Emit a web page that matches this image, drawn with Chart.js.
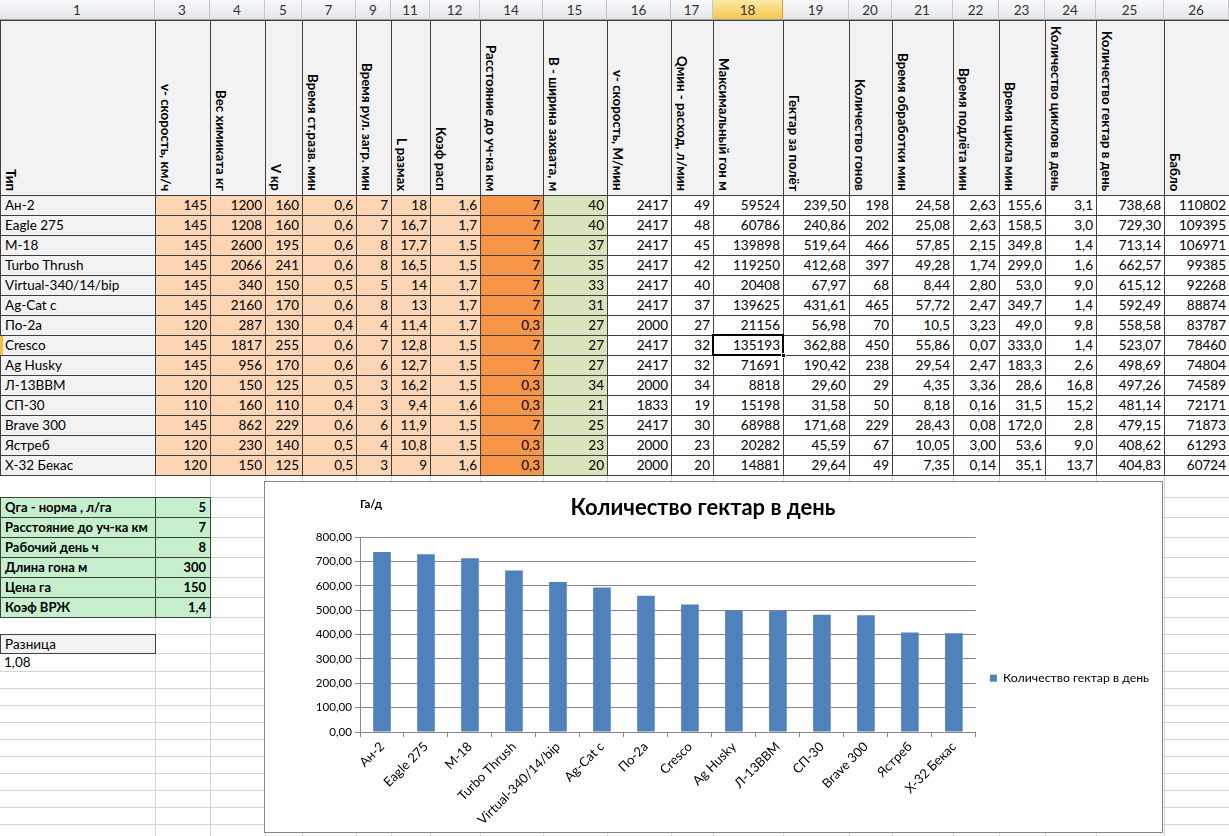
<!DOCTYPE html>
<html lang="ru">
<head>
<meta charset="UTF-8">
<title>Количество гектар в день</title>
<script src="https://cdn.jsdelivr.net/npm/chart.js@4.4.1/dist/chart.umd.min.js"></script>
<style>
  body { margin: 0; width: 1229px; height: 836px; overflow: hidden; background: #fff; position: relative; font-family: Lato, "Noto Sans", sans-serif; color: #000; }
  .c { position: absolute; box-sizing: border-box; overflow: hidden; white-space: nowrap; font-size: 13.5px; line-height: 19px; }
  .hd { background: linear-gradient(#f8f9fa, #e3e6ea); border-right: 1px solid #c4c8ce; border-bottom: 1px solid #9aa0a8; text-align: center; color: #333; font-size: 13.5px; line-height: 20px; }
  .hd.sel { background: linear-gradient(#fdeaa6, #f6c64e); border-right: 1px solid #d9a53a; }
  .th { background: #f2f2f2; border: 1px solid #404040; }
  .th span { position: absolute; left: 3px; bottom: 4px; writing-mode: vertical-rl; font-weight: bold; font-size: 13.3px; line-height: 14px; }
  .td { border: 1px solid #404040; text-align: right; padding-right: 3px; }
  .td.t { text-align: left; padding-left: 4px; background: #f2f2f2; }
  .gl { position: absolute; background: #d4d4d4; }
  .pp { background: #c6efce; border: 1px solid #404040; font-weight: bold; padding: 0 4px; font-size: 13px; }
  #chartBox { position: absolute; left: 264px; top: 481px; width: 899px; height: 352px; box-sizing: border-box; border: 1px solid #868686; background: #fff; }
</style>
</head>
<body>
<div id="chartBox"><canvas id="chart"></canvas></div>
<script>
// данные диаграммы
const types = ['Ан-2', 'Eagle 275', 'М-18', 'Turbo Thrush', 'Virtual-340/14/bip', 'Ag-Cat c', 'По-2а',
  'Cresco', 'Ag Husky', 'Л-13ВВМ', 'СП-30', 'Brave 300', 'Ястреб', 'Х-32 Бекас'];
const haPerDay = [738.68, 729.30, 713.14, 662.57, 615.12, 592.49, 558.58, 523.07, 498.69, 497.26, 481.14, 479.15, 408.62, 404.83];
const seriesName = 'Количество гектар в день';
const yMax = 800, yStep = 100;

// шапка листа
const colNums = ['1', '3', '4', '5', '7', '9', '11', '12', '14', '15', '16', '17', '18', '19', '20', '21', '22', '23', '24', '25', '26'];
const headers = ['Тип', 'v- скорость, км/ч', 'Вес химиката кг', 'V кр', 'Время ст.разв. мин', 'Время рул. загр. мин', 'L размах',
  'Коэф расп', 'Расстояние до уч-ка км', 'В - ширина захвата, м', 'v- скорость, М/мин', 'Qмин - расход, л/мин', 'Максимальный гон м',
  'Гектар за полёт', 'Количество  гонов', 'Время обработки мин', 'Время подлёта мин', 'Время цикла мин',
  'Количество циклов в день', 'Количество гектар в день', 'Бабло'];
// столбцы 3..24 по строкам (25 берётся из haPerDay, 26 - отдельно)
const rows = [
  ['145', '1200', '160', '0,6', '7', '18', '1,6', '7', '40', '2417', '49', '59524', '239,50', '198', '24,58', '2,63', '155,6', '3,1'],
  ['145', '1208', '160', '0,6', '7', '16,7', '1,7', '7', '40', '2417', '48', '60786', '240,86', '202', '25,08', '2,63', '158,5', '3,0'],
  ['145', '2600', '195', '0,6', '8', '17,7', '1,5', '7', '37', '2417', '45', '139898', '519,64', '466', '57,85', '2,15', '349,8', '1,4'],
  ['145', '2066', '241', '0,6', '8', '16,5', '1,5', '7', '35', '2417', '42', '119250', '412,68', '397', '49,28', '1,74', '299,0', '1,6'],
  ['145', '340', '150', '0,5', '5', '14', '1,7', '7', '33', '2417', '40', '20408', '67,97', '68', '8,44', '2,80', '53,0', '9,0'],
  ['145', '2160', '170', '0,6', '8', '13', '1,7', '7', '31', '2417', '37', '139625', '431,61', '465', '57,72', '2,47', '349,7', '1,4'],
  ['120', '287', '130', '0,4', '4', '11,4', '1,7', '0,3', '27', '2000', '27', '21156', '56,98', '70', '10,5', '3,23', '49,0', '9,8'],
  ['145', '1817', '255', '0,6', '7', '12,8', '1,5', '7', '27', '2417', '32', '135193', '362,88', '450', '55,86', '0,07', '333,0', '1,4'],
  ['145', '956', '170', '0,6', '6', '12,7', '1,5', '7', '27', '2417', '32', '71691', '190,42', '238', '29,54', '2,47', '183,3', '2,6'],
  ['120', '150', '125', '0,5', '3', '16,2', '1,5', '0,3', '34', '2000', '34', '8818', '29,60', '29', '4,35', '3,36', '28,6', '16,8'],
  ['110', '160', '110', '0,4', '3', '9,4', '1,6', '0,3', '21', '1833', '19', '15198', '31,58', '50', '8,18', '0,16', '31,5', '15,2'],
  ['145', '862', '229', '0,6', '6', '11,9', '1,5', '7', '25', '2417', '30', '68988', '171,68', '229', '28,43', '0,08', '172,0', '2,8'],
  ['120', '230', '140', '0,5', '4', '10,8', '1,5', '0,3', '23', '2000', '23', '20282', '45,59', '67', '10,05', '3,00', '53,6', '9,0'],
  ['120', '150', '125', '0,5', '3', '9', '1,6', '0,3', '20', '2000', '20', '14881', '29,64', '49', '7,35', '0,14', '35,1', '13,7']
];
const bablo = ['110802', '109395', '106971', '99385', '92268', '88874', '83787', '78460', '74804', '74589', '72171', '71873', '61293', '60724'];

const params = [['Qга -  норма , л/га', '5'], ['Расстояние до уч-ка км', '7'], ['Рабочий день ч', '8'],
  ['Длина гона м', '300'], ['Цена га', '150'], ['Коэф ВРЖ', '1,4']];

// геометрия листа
const colX = [0, 155, 210, 265, 302, 356, 391, 430, 480, 543, 607, 671, 713, 783, 849, 892, 953, 999, 1045, 1096, 1164, 1229];
const lowRowsY = [475, 497, 517, 537, 557, 577, 597, 617, 634, 653, 671, 688, 705, 722, 739, 756, 773, 790, 807, 824];

function cell(x0, x1, y0, y1, cls, text, style) {
  const d = document.createElement('div');
  d.className = 'c ' + cls;
  d.style.left = x0 + 'px'; d.style.top = y0 + 'px';
  d.style.width = (x1 - x0 + 1) + 'px'; d.style.height = (y1 - y0 + 1) + 'px';
  if (style) Object.assign(d.style, style);
  if (text !== undefined) d.innerHTML = text;
  document.body.insertBefore(d, document.getElementById('chartBox'));
  return d;
}
function line(x, y, w, h) {
  const d = document.createElement('div');
  d.className = 'gl';
  Object.assign(d.style, { left: x + 'px', top: y + 'px', width: w + 'px', height: h + 'px' });
  document.body.insertBefore(d, document.getElementById('chartBox'));
}

// сетка Excel ниже таблицы
lowRowsY.forEach(y => line(0, y, 1229, 1));
colX.slice(1, -1).forEach(x => line(x, 475, 1, 361));

// номера столбцов
colNums.forEach((n, i) => cell(colX[i], colX[i + 1] - 1, 0, 19, 'hd' + (n === '18' ? ' sel' : ''), n));

// заголовки
headers.forEach((h, i) => cell(colX[i], colX[i + 1], 20, 195, 'th', '<span>' + h + '</span>'));

// строки данных
const fills = ['#f2f2f2', '#fcd5b4', '#fcd5b4', '#fcd5b4', '#fcd5b4', '#fcd5b4', '#fcd5b4', '#fcd5b4', '#f79646', '#d8e4bc'];
types.forEach((t, r) => {
  const y0 = 195 + r * 20, y1 = y0 + 20;
  const vals = [t].concat(rows[r], [haPerDay[r].toFixed(2).replace('.', ','), bablo[r]]);
  vals.forEach((v, i) => {
    cell(colX[i], colX[i + 1], y0, y1, i === 0 ? 'td t' : 'td', v, { background: fills[i] || '#fff' });
  });
});
// выделенная ячейка
cell(712, 783, 334, 355, '', '', { border: '2px solid #000' });
cell(781, 785, 353, 357, '', '', { background: '#000', border: '1px solid #fff' });
cell(0, 2, 336, 354, '', '', { background: '#f2c04a' });

// параметры
params.forEach((p, i) => {
  const y0 = 497 + i * 20;
  cell(0, 155, y0, y0 + 20, 'pp', p[0]);
  cell(155, 210, y0, y0 + 20, 'pp', p[1], { textAlign: 'right' });
});
cell(0, 155, 634, 653, '', 'Разница', { background: '#f2f2f2', border: '1px solid #404040', paddingLeft: '4px' });
cell(0, 155, 653, 671, '', '1,08', { paddingLeft: '4px', lineHeight: '18px' });

// подпись единиц над осью Y
const unitLabel = {
  id: 'unitLabel',
  afterDraw(chart) {
    const c = chart.ctx;
    c.save();
    c.font = 'bold 11.5px Lato';
    c.fillStyle = '#000';
    c.textAlign = 'center';
    c.textBaseline = 'middle';
    c.fillText('Га/д', chart.chartArea.left + 11, 22);
    c.restore();
  }
};

new Chart(document.getElementById('chart'), {
  type: 'bar',
  data: {
    labels: types,
    datasets: [{
      label: seriesName,
      data: haPerDay,
      backgroundColor: '#4f81bd',
      borderWidth: 0,
      barPercentage: 0.4,
      categoryPercentage: 1
    }]
  },
  options: {
    responsive: true,
    maintainAspectRatio: false,
    animation: false,
    // отрицательный отступ слева сдвигает заголовок левее, как в Excel
    layout: { padding: { left: -18, right: 3, top: 0, bottom: 0 } },
    plugins: {
      title: {
        display: true, text: seriesName, color: '#000',
        font: { family: 'Lato', size: 22, weight: 'bold' },
        padding: { top: 13, bottom: 15.6 }
      },
      legend: {
        position: 'right',
        title: { display: true, text: ' ', font: { size: 12 }, padding: { top: 14, bottom: 14 } },
        labels: { boxWidth: 7, boxHeight: 7, font: { family: 'Lato', size: 12.3 }, color: '#000', padding: 14 }
      },
      tooltip: { enabled: false }
    },
    scales: {
      x: {
        grid: { offset: true, drawOnChartArea: false, tickLength: 5, color: '#868686' },
        border: { color: '#868686' },
        ticks: { autoSkip: false, minRotation: 45, maxRotation: 45, font: { family: 'Lato', size: 13 }, color: '#000', padding: 2 },
        afterFit(s) { s.height = 100; }
      },
      y: {
        min: 0, max: yMax,
        grid: { color: '#868686', tickLength: 5 },
        border: { color: '#868686' },
        ticks: {
          stepSize: yStep, font: { family: 'Lato', size: 11.6 }, color: '#000', padding: 3,
          callback: v => v.toFixed(2).replace('.', ',')
        },
        afterFit(s) { s.width = 113; }
      }
    }
  },
  plugins: [unitLabel]
});
</script>
</body>
</html>
